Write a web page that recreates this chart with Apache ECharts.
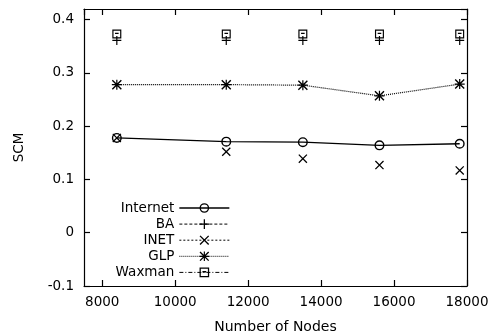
<!DOCTYPE html>
<html><head><meta charset="utf-8">
<script src="https://cdn.jsdelivr.net/npm/echarts@6/dist/echarts.min.js"></script>
<style>html,body{margin:0;padding:0;background:#fff}#c{width:491px;height:335px}</style>
</head><body><div id="c"></div>
<script>
var nodes = [8400, 11400, 13500, 15600, 17800];
var internet = [0.178, 0.171, 0.170, 0.164, 0.167];
var ba = [0.361, 0.361, 0.361, 0.361, 0.361];
var inet = [0.178, 0.152, 0.139, 0.127, 0.117];
var glp = [0.278, 0.278, 0.277, 0.257, 0.279];
var waxman = [0.373, 0.373, 0.373, 0.373, 0.373];
var seriesNames = ['Internet', 'BA', 'INET', 'GLP', 'Waxman'];
var xTicks = [8000, 10000, 12000, 14000, 16000, 18000];
var yTicks = [-0.1, 0, 0.1, 0.2, 0.3, 0.4];

function pairs(vals) { return nodes.map(function (n, i) { return [n, vals[i]]; }); }

var FONT = 'DejaVu Sans';
var ringPath = 'path://M5,0A5,5 0 1,1 5,10A5,5 0 1,1 5,0Z M5,1.4A3.6,3.6 0 1,0 5,8.6A3.6,3.6 0 1,0 5,1.4Z';
var plusPath = 'path://M4,0h1.2v9.2h-1.2z M0,4h9.2v1.2h-9.2z';
var xPath = 'path://M0,0.9L0.9,0L9,8.1L8.1,9Z M8.1,0L9,0.9L0.9,9L0,8.1Z';
var starPath = 'path://M0,0.9L0.9,0L9,8.1L8.1,9Z M8.1,0L9,0.9L0.9,9L0,8.1Z M0,4h9v1.1h-9z M3.95,0h1.1v9h-1.1z';
var boxPath = 'path://M0,0H10V10H0Z M1.3,1.3V8.7H8.7V1.3Z M3,3.6H7V5H3Z';

var chart = echarts.init(document.getElementById('c'), null, {renderer: 'canvas'});
var axisCommon = {
  axisLine: {show: true, onZero: false, lineStyle: {color: '#000', width: 1.2}},
  axisTick: {show: true, inside: true, length: 6, lineStyle: {color: '#000', width: 1.2}},
  splitLine: {show: false}
};
function xfmt(v) { return xTicks.indexOf(v) >= 0 ? String(v) : ''; }
function yfmt(v) {
  for (var i = 0; i < yTicks.length; i++) if (Math.abs(yTicks[i] - v) < 1e-9) return String(yTicks[i]);
  return '';
}
chart.setOption({
  animation: false,
  backgroundColor: '#fff',
  grid: {left: 84, right: 24, top: 9, bottom: 49, containLabel: false, outerBoundsMode: 'none'},
  xAxis: [
    Object.assign({}, axisCommon, {
      type: 'value', min: 7500, max: 18000, splitNumber: 5, position: 'bottom',
      name: 'Number of Nodes', nameLocation: 'middle', nameGap: 34,
      nameTextStyle: {fontFamily: FONT, fontSize: 14, color: '#000'},
      axisLabel: {fontFamily: FONT, fontSize: 13.5, color: '#000', margin: 9, formatter: xfmt, showMinLabel: false}
    }),
    Object.assign({}, axisCommon, {
      type: 'value', min: 7500, max: 18000, splitNumber: 5, position: 'top',
      axisLabel: {show: false}
    })
  ],
  yAxis: [
    Object.assign({}, axisCommon, {
      type: 'value', min: -0.1, max: 0.42, interval: 0.1, position: 'left',
      name: 'SCM', nameLocation: 'middle', nameGap: 58,
      nameTextStyle: {fontFamily: FONT, fontSize: 13.5, color: '#000'},
      axisLabel: {fontFamily: FONT, fontSize: 13.5, color: '#000', margin: 10, formatter: yfmt, showMaxLabel: false}
    }),
    Object.assign({}, axisCommon, {
      type: 'value', min: -0.1, max: 0.42, interval: 0.1, position: 'right',
      axisLabel: {show: false}
    })
  ],
  legend: {
    orient: 'vertical', align: 'right', right: 261, top: 201, padding: 0,
    itemWidth: 50, itemHeight: 12, itemGap: 2.1,
    textStyle: {fontFamily: FONT, fontSize: 13.5, color: '#000'},
    lineStyle: {width: 1},
    data: [
      {name: seriesNames[0], lineStyle: {width: 1.3, opacity: 1}},
      {name: seriesNames[1], lineStyle: {width: 1, opacity: 1, type: [3, 2]}},
      {name: seriesNames[2], lineStyle: {width: 1, opacity: 1, type: [2, 2]}},
      {name: seriesNames[3], lineStyle: {width: 1, opacity: 1, type: [1, 1]}},
      {name: seriesNames[4], lineStyle: {width: 1, opacity: 1, type: [4, 2, 1, 2]}}
    ]
  },
  series: [
    {name: seriesNames[0], type: 'line', data: pairs(internet), symbol: ringPath, symbolSize: 10,
     itemStyle: {color: '#000'}, lineStyle: {color: '#000', width: 1.3}},
    {name: seriesNames[1], type: 'line', data: pairs(ba), symbol: plusPath, symbolSize: 9,
     itemStyle: {color: '#000'}, lineStyle: {color: '#000', width: 1, opacity: 0, type: [3, 2]}},
    {name: seriesNames[2], type: 'line', data: pairs(inet), symbol: xPath, symbolSize: 9,
     itemStyle: {color: '#000'}, lineStyle: {color: '#000', width: 1, opacity: 0, type: [2, 2]}},
    {name: seriesNames[3], type: 'line', data: pairs(glp), symbol: starPath, symbolSize: 10,
     itemStyle: {color: '#000'}, lineStyle: {color: '#000', width: 1.2, type: [1, 1]}},
    {name: seriesNames[4], type: 'line', data: pairs(waxman), symbol: boxPath, symbolSize: 9,
     itemStyle: {color: '#000'}, lineStyle: {color: '#000', width: 1, opacity: 0, type: [4, 2, 1, 2]}}
  ]
});
</script></body></html>
